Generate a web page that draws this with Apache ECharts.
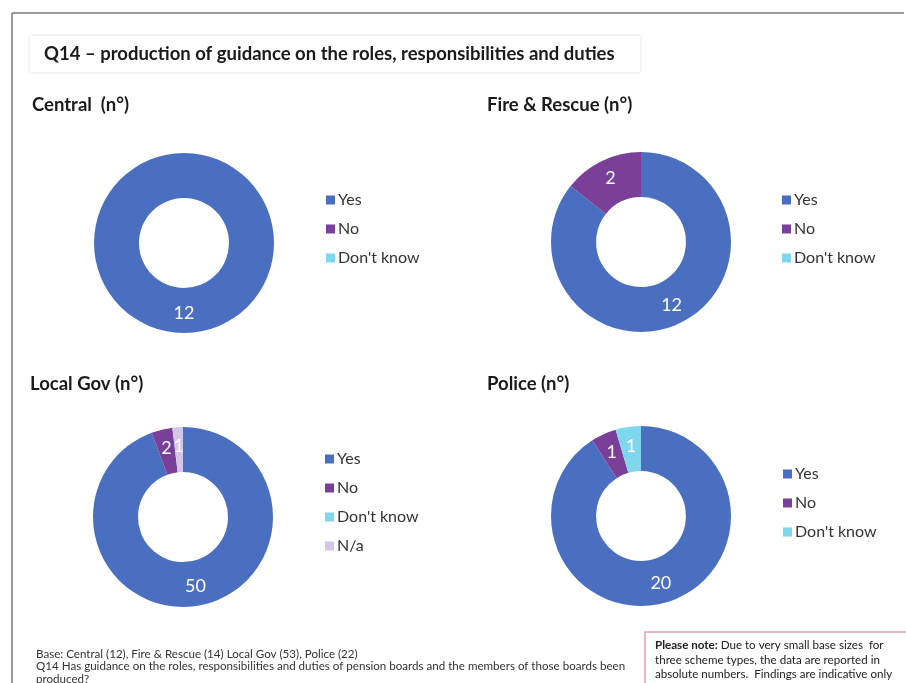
<!DOCTYPE html>
<html>
<head>
<meta charset="utf-8">
<script src="https://cdn.jsdelivr.net/npm/echarts@6/dist/echarts.min.js"></script>
<style>
  html, body { margin: 0; padding: 0; background: #fff; }
  #chart { width: 906px; height: 683px; }
</style>
</head>
<body>
<div id="chart"></div>
<script>
// answers and counts (n) per scheme type
const categories = ['Yes', 'No', "Don't know", 'N/a']
const central = [12, 0, 0]
const fireRescue = [12, 2, 0]
const localGov = [50, 2, 0, 1]
const police = [20, 1, 1]

const colors = ['#4a6fc1', '#7a3f98', '#7fd7ee', '#d4c6e6']
const font = 'Lato, "Open Sans", sans-serif'

const chart = echarts.init(document.getElementById('chart'))

function pie(values, center) {
  return {
    type: 'pie',
    center: center,
    radius: [45, 90],
    startAngle: 90,
    clockwise: true,
    silent: true,
    label: {
      show: true,
      position: 'inside',
      color: '#fff',
      fontSize: 18,
      fontFamily: font,
      formatter: p => (p.value ? p.value : '')
    },
    labelLine: { show: false },
    itemStyle: { borderWidth: 0 },
    emphasis: { disabled: true },
    data: values.map((v, i) => ({ name: categories[i], value: v, itemStyle: { color: colors[i] } }))
  }
}

function legend(names, left, top) {
  return {
    orient: 'vertical',
    left: left,
    top: top,
    padding: 0,
    data: names,
    icon: 'rect',
    itemWidth: 9,
    itemHeight: 9,
    itemGap: 11,
    selectedMode: false,
    textStyle: { color: '#333', fontSize: 16, fontFamily: font, lineHeight: 18, padding: [0, 0, 0, -2] }
  }
}

function text(str, x, y, size, bold, color) {
  return {
    type: 'text',
    x: x,
    y: y,
    style: {
      text: str,
      fill: color || '#1a1a1a',
      font: (bold ? 'bold ' : '') + size + 'px ' + font,
      verticalAlign: 'middle'
    }
  }
}

const option = {
  animation: false,
  color: colors,
  legend: [
    legend(categories.slice(0, 3), 326, 191),
    legend(categories.slice(0, 3), 782, 191),
    legend(categories, 325, 450),
    legend(categories.slice(0, 3), 783, 465)
  ],
  series: [
    pie(central, [184, 243]),
    pie(fireRescue, [641, 242]),
    pie(localGov, [183, 517]),
    pie(police, [641, 516])
  ],
  graphic: [
    // frame
    { type: 'line', shape: { x1: 12, y1: 13, x2: 904, y2: 13 }, style: { stroke: '#9a9a9a', lineWidth: 2 } },
    { type: 'line', shape: { x1: 12, y1: 13, x2: 12, y2: 683 }, style: { stroke: '#9a9a9a', lineWidth: 2 } },
    // title box
    { type: 'rect', shape: { x: 30, y: 36, width: 610, height: 36 },
      style: { fill: '#fff', shadowBlur: 4, shadowColor: 'rgba(0,0,0,0.12)' } },
    text('Q14 – production of guidance on the roles, responsibilities and duties', 44, 54, 18.5, true),
    text('Central  (n°)', 32, 105, 18.5, true),
    text('Fire & Rescue (n°)', 487, 105, 18.5, true),
    text('Local Gov (n°)', 30, 384, 18.5, true),
    text('Police (n°)', 487, 384, 18.5, true),
    // footnotes
    text('Base: Central (12), Fire & Rescue (14) Local Gov (53), Police (22)', 36, 654, 11.6, false, '#333'),
    text('Q14 Has guidance on the roles, responsibilities and duties of pension boards and the members of those boards been', 36, 666, 11.6, false, '#333'),
    text('produced?', 36, 679, 11.6, false, '#333'),
    // note box
    { type: 'rect', shape: { x: 645, y: 632, width: 270, height: 60 },
      style: { fill: '#fff', stroke: '#e8a0ac', lineWidth: 1.5 } },
    {
      type: 'text', x: 655, y: 645,
      style: {
        rich: {
          b: { font: 'bold 11.6px ' + font, fill: '#222' },
          n: { font: '11.6px ' + font, fill: '#222' }
        },
        text: '{b|Please note:}{n| Due to very small base sizes  for}',
        verticalAlign: 'middle'
      }
    },
    text('three scheme types, the data are reported in', 655, 660, 11.6, false, '#222'),
    text('absolute numbers.  Findings are indicative only', 655, 674, 11.6, false, '#222')
  ]
}

chart.setOption(option)
</script>
</body>
</html>
